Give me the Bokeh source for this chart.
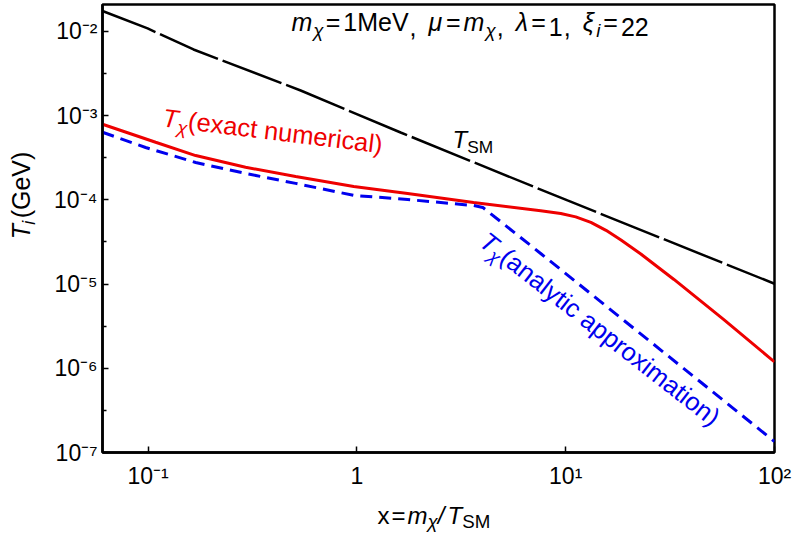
import math
from bokeh.plotting import figure
from bokeh.layouts import column, row
from bokeh.models import Range1d, FixedTicker, CustomJSTickFormatter, Label
from bokeh.embed import file_html
from bokeh.resources import INLINE

# ---------------- data ----------------
# T_SM (black, long dashes)
x_sm = [0.0605, 0.0995, 0.165, 0.538, 1.62, 7.19, 10.2, 100.0]
t_sm = [0.0175, 0.01086, 0.00611, 0.00199, 6.31e-4, 1.40e-4, 9.84e-5, 1.01e-5]

# T_chi exact numerical (red, solid)
x_num = [0.0605, 0.1087, 0.169, 0.293, 0.509, 0.966, 1.75, 3.62, 7.59, 9.47,
         11.17, 13.2, 15.6, 18.4, 22.9, 33.0, 57.2, 100.0]
t_num = [7.9e-4, 4.84e-4, 3.36e-4, 2.44e-4, 1.90e-4, 1.44e-4, 1.19e-4, 9.31e-5,
         7.45e-5, 6.89e-5, 6.28e-5, 5.41e-5, 4.35e-5, 3.33e-5, 2.28e-5, 1.135e-5,
         3.79e-6, 1.19e-6]

# T_chi analytic approximation (blue, dashed)
x_ana = [0.0605, 0.0973, 0.169, 0.293, 0.509, 0.966, 1.75, 3.62, 4.01, 7.59, 100.0]
t_ana = [6.35e-4, 4.19e-4, 2.78e-4, 2.06e-4, 1.57e-4, 1.13e-4, 1.01e-4, 8.57e-5,
         8.13e-5, 2.31e-5, 1.35e-7]

x_ticks = [0.1, 1, 10, 100]
y_ticks = [1e-7, 1e-6, 1e-5, 1e-4, 1e-3, 1e-2]
y_minor = [10 ** (k + 0.5) for k in range(-7, -1)]

# ---------------- layout (global pixel geometry) ----------------
W, H = 796, 534
LW = 40            # width of the strip holding the y-axis label
HM = 496           # height of the main figure
L, R, T, B = 102, 774, 4, 452   # frame box in page pixels
XLO, XHI = 0.0605, 100.0
YLO, YHI = 1e-7, 0.0209
FONT = "Liberation Sans"
RED, BLUE = "#ee0000", "#0000ee"

p = figure(width=W - LW, height=HM, x_axis_type="log", y_axis_type="log",
           x_range=Range1d(XLO, XHI), y_range=Range1d(YLO, YHI),
           output_backend="svg", toolbar_location=None,
           min_border_left=L - LW, min_border_right=W - R,
           min_border_top=T, min_border_bottom=HM - B)
p.title.visible = False
p.xgrid.visible = False
p.ygrid.visible = False
p.background_fill_color = "white"
p.border_fill_color = "white"
p.outline_line_color = "black"
p.outline_line_width = 2.5

fmt = CustomJSTickFormatter(code="""
const e = Math.round(Math.log10(tick));
if (e == 0) return "1";
const sup = {"-":"\u207b","0":"\u2070","1":"\u00b9","2":"\u00b2","3":"\u00b3","4":"\u2074",
             "5":"\u2075","6":"\u2076","7":"\u2077","8":"\u2078","9":"\u2079"};
return "10" + String(e).split("").map(c => sup[c]).join("");
""")

for ax, ticks, minor in ((p.xaxis[0], x_ticks, []), (p.yaxis[0], y_ticks, y_minor)):
    ax.ticker = FixedTicker(ticks=ticks, minor_ticks=minor)
    ax.formatter = fmt
    ax.axis_line_color = "black"
    ax.axis_line_width = 2.5
    ax.major_tick_in = 6
    ax.major_tick_out = 0
    ax.minor_tick_in = 4
    ax.minor_tick_out = 0
    ax.major_tick_line_width = 1.5
    ax.minor_tick_line_width = 1.5
    ax.major_label_text_font = FONT
    ax.major_label_text_font_size = "23px"
    ax.major_label_text_color = "black"
    ax.axis_label = None
p.yaxis[0].major_label_standoff = 5
p.xaxis[0].major_label_standoff = 10

# ---------------- curves ----------------
p.line(x_sm, t_sm, line_color="black", line_width=2.5, line_dash="63 5", line_dash_offset=6)
p.line(x_num, t_num, line_color=RED, line_width=3)
p.line(x_ana, t_ana, line_color=BLUE, line_width=3, line_dash="12 7")


def strip(w, h):
    f = figure(width=w, height=h, x_range=Range1d(0, w), y_range=Range1d(0, h),
               output_backend="svg", toolbar_location=None,
               min_border=0, x_axis_location=None, y_axis_location=None)
    f.title.visible = False
    f.xgrid.visible = False
    f.ygrid.visible = False
    f.outline_line_color = None
    f.background_fill_color = "white"
    f.border_fill_color = "white"
    return f


ylab = strip(LW, HM)
xlab = strip(W, H - HM)

# ---------------- rich text helpers ----------------
CW = {' ': 278, '(': 333, ')': 333, ',': 278, '-': 333, '/': 278, '=': 584,
      'G': 778, 'M': 833, 'S': 667, 'T': 611, 'V': 667, 'a': 556, 'c': 500,
      'e': 556, 'i': 222, 'l': 222, 'm': 833, 'n': 556, 'o': 556, 'p': 556,
      'r': 333, 't': 278, 'u': 556, 'x': 500, 'y': 500, 'μ': 576, 'λ': 500,
      'ξ': 460, 'χ': 500}
DESC = 0.11   # gap (em) between the text box bottom and the baseline


def main_map(px, py):
    x = 10 ** (math.log10(XLO) + (px - L) / (R - L) * (math.log10(XHI) - math.log10(XLO)))
    y = 10 ** (math.log10(YLO) + (B - py) / (B - T) * (math.log10(YHI) - math.log10(YLO)))
    return x, y


def ylab_map(px, py):
    return px, HM - py


def xlab_map(px, py):
    return px, H - py


def flow(specs, size, sub_scale=0.72):
    out, off = [], 0.0
    for txt, ital, sub, pre in specs:
        off += pre
        fs = size * sub_scale if sub else size
        out.append((off, txt, ital, sub))
        off += sum(CW.get(c, 556) for c in txt) / 1000.0 * fs
    return out


def place(fig, mapping, sx, sy, ang, pieces, size, color, sub_scale=0.72, sub_drop=0.2):
    """sx, sy: page position of the baseline start; pieces laid along angle ang."""
    a = math.radians(ang)
    ca, sa = math.cos(a), math.sin(a)
    for off, txt, ital, sub in pieces:
        fs = size * sub_scale if sub else size
        # shift along the text's "up" normal: negative = down
        sh = (-sub_drop * size if sub else 0.0) - DESC * fs
        qx = sx + off * ca - sh * sa
        qy = sy - (off * sa + sh * ca)
        x, y = mapping(qx, qy)
        fig.add_layout(Label(x=x, y=y, text=txt, angle=a,
                             text_font=FONT, text_font_size=f"{fs:.1f}px",
                             text_font_style="italic" if ital else "normal",
                             text_color=color, text_align="left",
                             text_baseline="bottom"))


# title inside the frame
TS, TSUB = 25, 0.75
title_specs = [("m", 1, 0, 0), ("χ", 1, 1, 1), ("=", 0, 0, 3), ("1MeV", 0, 0, 3),
               (",", 0, 0, 1), ("μ", 1, 0, 12), ("=", 0, 0, 3), ("m", 1, 0, 3),
               ("χ", 1, 1, 1), (",", 0, 0, 2), ("λ", 1, 0, 12), ("=", 0, 0, 3),
               ("1", 0, 0, 3), (",", 0, 0, 1), ("ξ", 1, 0, 12), ("i", 1, 1, 2),
               ("=", 0, 0, 3), ("22", 0, 0, 3)]
place(p, main_map, 291, 33, 0, flow(title_specs, TS, TSUB), TS, "black", sub_scale=TSUB)

# curve labels
place(p, main_map, 452, 150, 0, flow([("T", 1, 0, 0), ("SM", 0, 1, 0)], 24), 24, "black")
place(p, main_map, 161, 128, -7,
      flow([("T", 1, 0, 0), ("χ", 1, 1, 0), ("(exact numerical)", 0, 0, 1)], 25.5), 25.5, RED)
place(p, main_map, 476, 246, -38,
      flow([("T", 1, 0, 0), ("χ", 1, 1, 0), ("(analytic approximation)", 0, 0, 1)], 25.5), 25.5, BLUE)

# axis labels (in their own strips so that they are not clipped by the frame)
xl_specs = [("x", 0, 0, 0), ("=", 0, 0, 2), ("m", 1, 0, 2), ("χ", 1, 1, 0),
            ("/", 1, 0, 1), ("T", 1, 0, 3), ("SM", 0, 1, 0)]
place(xlab, xlab_map, 377, 526, 0, flow(xl_specs, 24, 0.78), 24, "black",
      sub_scale=0.78, sub_drop=0.16)
place(ylab, ylab_map, 32, 260, 90,
      flow([("T", 1, 0, 0), ("i", 1, 1, 1), ("(GeV)", 0, 0, 3)], 25), 25, "black",
      sub_drop=0.18)

layout = column(row(ylab, p, spacing=0), xlab, spacing=0)
open("out.html", "w").write(file_html(layout, INLINE))
